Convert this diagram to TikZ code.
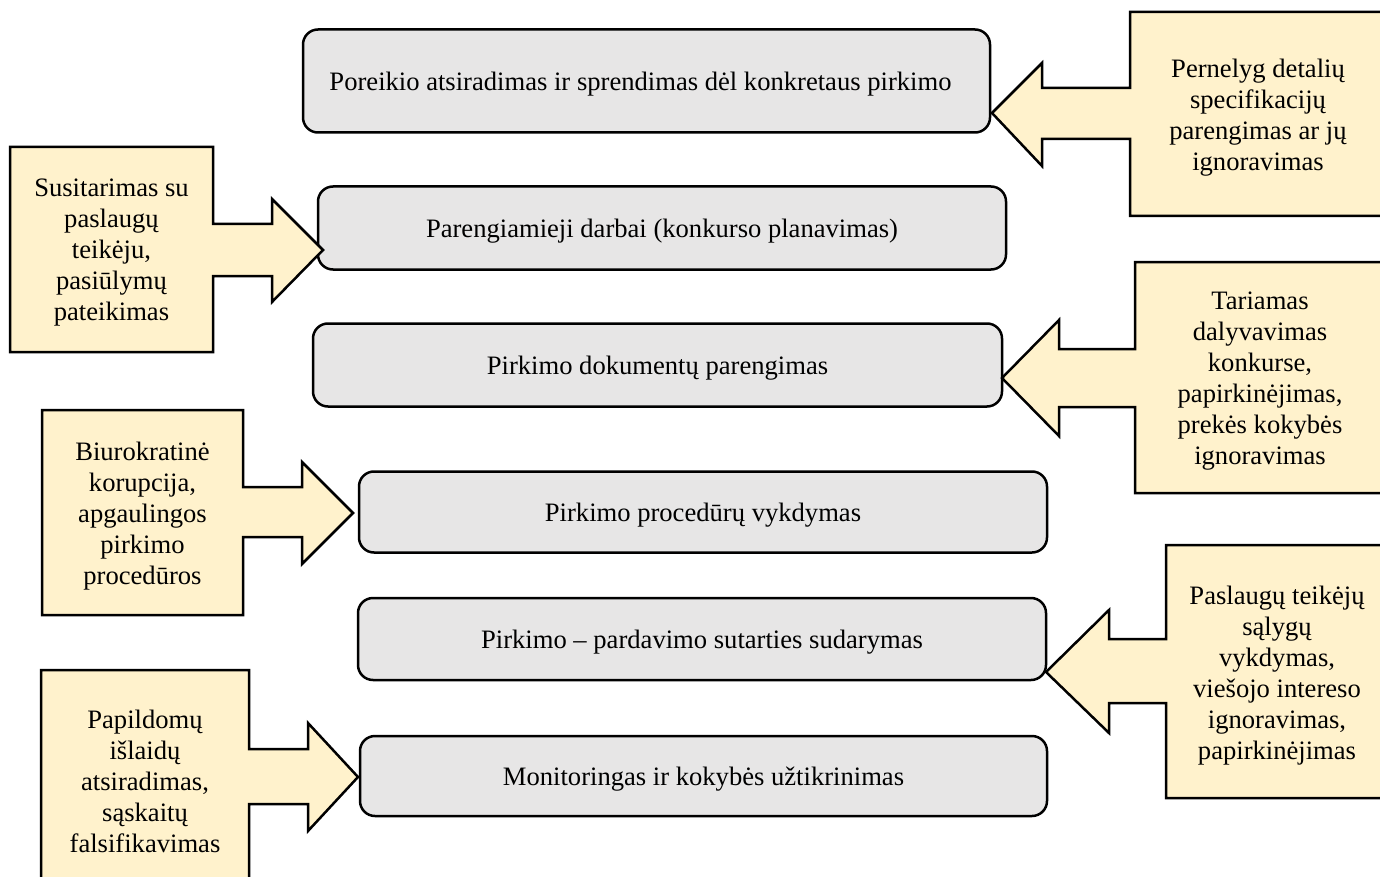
\documentclass[tikz,border=0pt]{standalone}
\usepackage{fontspec}
\setmainfont{Liberation Serif}
\definecolor{calloutfill}{HTML}{FFF2CC}
\definecolor{boxfill}{HTML}{E7E6E6}
\begin{document}
\begin{tikzpicture}[x=0.5pt,y=-0.5pt,
  stagebox/.style={draw=black,line width=1.25pt,fill=boxfill,rounded corners=7.5pt,
    font=\fontsize{13.3pt}{15.5pt}\selectfont,inner sep=0pt,text height=11pt,text depth=1.7pt},
  callshape/.style={draw=black,line width=1.25pt,fill=calloutfill,line join=miter},
  calltext/.style={align=center,font=\fontsize{13.3pt}{15.5pt}\selectfont,inner sep=0pt}]
\useasboundingbox (0,0) rectangle (1380,877);
\clip (0,0) rectangle (1380,877);

% stage boxes
\node[stagebox,minimum width=343.5pt,minimum height=51.5pt] (s1) at (646.5,81) {\hspace*{-6pt}Poreikio atsiradimas ir sprendimas dėl konkretaus pirkimo};
\node[stagebox,minimum width=344pt,minimum height=41.5pt] (s2) at (662,228) {Parengiamieji darbai (konkurso planavimas)};
\node[stagebox,minimum width=344.5pt,minimum height=41.5pt] (s3) at (657.5,365) {Pirkimo dokumentų parengimas};
\node[stagebox,minimum width=344pt,minimum height=40.5pt] (s4) at (703,512) {Pirkimo procedūrų vykdymas};
\node[stagebox,minimum width=344pt,minimum height=41pt] (s5) at (702,639) {Pirkimo – pardavimo sutarties sudarymas};
\node[stagebox,minimum width=343.5pt,minimum height=40pt] (s6) at (703.5,776) {Monitoringas ir kokybės užtikrinimas};

% callout 1 (right)
\draw[callshape] (1130,12) -- (1388,12) -- (1388,216) -- (1130,216) -- (1130,139) -- (1042,139) -- (1042,166) -- (992,113) -- (1042,63) -- (1042,88) -- (1130,88) -- cycle;
\node[calltext] (c1) at (1258,118) {Pernelyg detalių\\specifikacijų\\parengimas ar jų\\ignoravimas};

% callout 2 (left)
\draw[callshape] (10,147) -- (213,147) -- (213,224) -- (272,224) -- (272,199) -- (323,250) -- (272,302) -- (272,276) -- (213,276) -- (213,352) -- (10,352) -- cycle;
\node[calltext] (c2) at (111.5,253) {Susitarimas su\\paslaugų\\teikėju,\\pasiūlymų\\pateikimas};

% callout 3 (right)
\draw[callshape] (1135,262) -- (1388,262) -- (1388,493) -- (1135,493) -- (1135,407) -- (1059,407) -- (1059,436) -- (1002,378) -- (1059,320) -- (1059,349) -- (1135,349) -- cycle;
\node[calltext] (c3) at (1260,381) {Tariamas\\dalyvavimas\\konkurse,\\papirkinėjimas,\\prekės kokybės\\ignoravimas};

% callout 4 (left)
\draw[callshape] (42,410) -- (243,410) -- (243,487) -- (302,487) -- (302,462) -- (353,513) -- (302,564) -- (302,537) -- (243,537) -- (243,615) -- (42,615) -- cycle;
\node[calltext] (c4) at (142.5,516) {Biurokratinė\\korupcija,\\apgaulingos\\pirkimo\\procedūros};

% callout 5 (right)
\draw[callshape] (1166,545) -- (1390,545) -- (1390,798) -- (1166,798) -- (1166,703) -- (1109,703) -- (1109,733) -- (1046,672) -- (1109,610) -- (1109,639) -- (1166,639) -- cycle;
\node[calltext] (c5) at (1277,676) {Paslaugų teikėjų\\sąlygų\\vykdymas,\\viešojo intereso\\ignoravimas,\\papirkinėjimas};

% callout 6 (left)
\draw[callshape] (41,670) -- (249,670) -- (249,749) -- (308,749) -- (308,723) -- (358,777) -- (308,831) -- (308,804) -- (249,804) -- (249,890) -- (41,890) -- cycle;
\node[calltext] (c6) at (145,781) {Papildomų\\išlaidų\\atsiradimas,\\sąskaitų\\falsifikavimas};
\end{tikzpicture}
\end{document}
